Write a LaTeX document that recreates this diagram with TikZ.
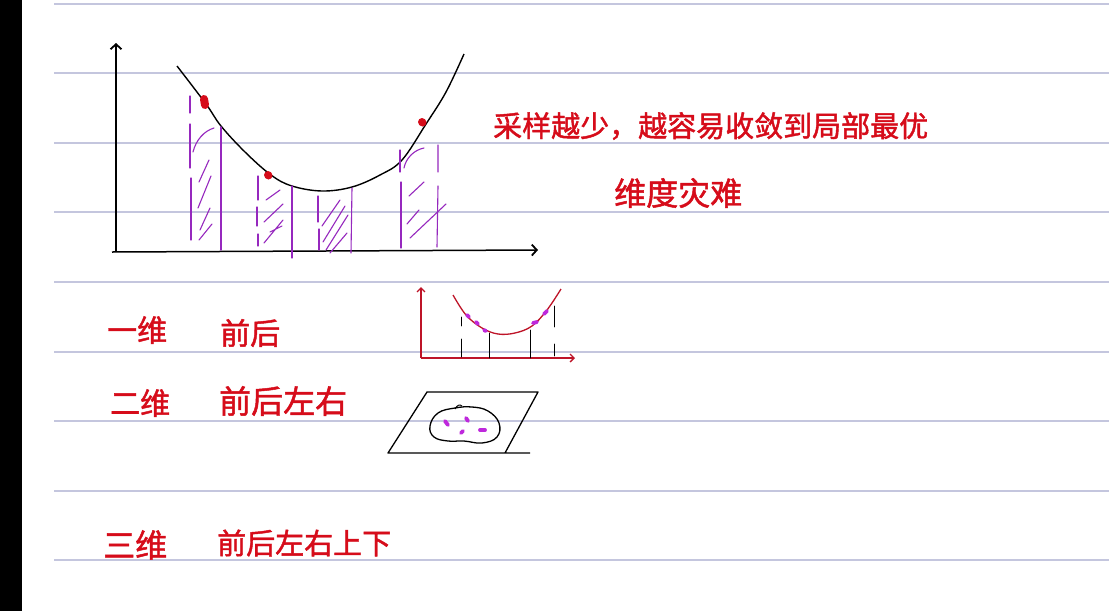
\documentclass[tikz,border=0pt]{standalone}
\usepackage{fontspec}
\newfontfamily\cjk[FakeBold=1.5]{Noto Sans CJK SC}
\usetikzlibrary{arrows.meta}
\definecolor{ruled}{RGB}{196,198,222}
\definecolor{ink}{RGB}{214,12,26}
\definecolor{hatch}{RGB}{150,40,190}
\definecolor{dotp}{RGB}{190,40,220}
\definecolor{crim}{RGB}{190,20,40}
\tikzset{
  ruleline/.style={ruled,line width=1.6pt},
  axis/.style={black,line width=1.5pt,-{Straight Barb[length=5pt,width=11pt,line width=1.8pt]}},
  raxis/.style={crim,line width=1.3pt,-{Straight Barb[length=4pt,width=8pt,line width=1.3pt]}},
  hat/.style={hatch,line width=1.1pt,line cap=round},
  thinblk/.style={black,line width=0.9pt,line cap=round},
  rdot/.style={ink,line width=8pt,line cap=round},
  pdot/.style={dotp,line width=3.8pt,line cap=round},
  hand/.style={ink,inner sep=0pt,anchor=west,font=\cjk},
}
\begin{document}
\begin{tikzpicture}[x=1pt,y=-1pt]
\useasboundingbox (0,0) rectangle (1109,611);
\fill[white] (0,0) rectangle (1109,611);
\fill[black] (0,0) rectangle (22,611);
\foreach \y in {4,73,143,212,282,352,421,491,560} \draw[ruleline] (54,\y) -- (1109,\y);

% ---- main graph ----
\coordinate (O) at (116,252);
\coordinate (Ytop) at (116,43);
\coordinate (X0) at (112,252);
\coordinate (Xend) at (538,250);
\draw[axis] (O) -- (Ytop);
\draw[axis] (X0) -- (Xend);
\draw[black,line width=1.4pt] plot[smooth,tension=0.6] coordinates {(177,66) (206,104) (221,126) (245,152) (271,175) (292,186) (322,191) (352,187) (380,175) (402,160) (426,124) (446,92) (464,54)};

% hatch strip 1
\draw[hat] (190,96)--(190,113) (190,124)--(190,168) (191,178)--(191,240);
\draw[hat] (221,127)--(221,250);
\draw[hat] (193,152) .. controls (196,140) and (204,131) .. (214,128);
\draw[hat] (199,182)--(209,160) (198,208)--(211,176) (200,230)--(210,208) (199,240)--(212,224);
% hatch strip 2
\draw[hat] (258,176)--(258,200) (257,207)--(257,226) (258,234)--(258,246);
\draw[hat] (292,186)--(292,258);
\draw[hat] (266,200)--(280,190) (264,222)--(283,204) (264,243)--(283,220) (270,232)--(282,226);
% hatch strip 3
\draw[hat] (318,196)--(318,222) (319,229)--(319,250);
\draw[hat] (352,188)--(351,253);
\draw[hat] (322,226)--(340,200) (323,242)--(345,206) (326,250)--(348,215) (330,253)--(347,233);
% hatch strip 4
\draw[hat] (400,150)--(400,172) (401,182)--(401,248);
\draw[hat] (438,145)--(438,172) (438,186)--(437,247);
\draw[hat] (404,168) .. controls (406,158) and (414,150) .. (424,148);
\draw[hat] (409,196)--(424,182) (407,224)--(419,210) (410,238)--(446,204);

% red sample dots
\draw[rdot] (204,99)--(205,105);
\draw[rdot] (268,175)--(268.5,175.5);
\draw[rdot] (422,122)--(422.5,122.5);

% ---- texts ----
\node[hand,font=\cjk\fontsize{29}{29}\selectfont] (t1) at (493,126) {采样越少，越容易收敛到局部最优};
\node[hand,font=\cjk\fontsize{32}{32}\selectfont] (t2) at (614,193) {维度灾难};
\node[hand,font=\cjk\fontsize{30}{30}\selectfont] (d1) at (107,330) {一维};
\node[hand,font=\cjk\fontsize{30}{30}\selectfont] (p1) at (220,333) {前后};
\node[hand,font=\cjk\fontsize{30}{30}\selectfont] (d2) at (110,403) {二维};
\node[hand,font=\cjk\fontsize{32}{32}\selectfont] (p2) at (219,401) {前后左右};
\node[hand,font=\cjk\fontsize{32}{32}\selectfont] (d3) at (103,545) {三维};
\node[hand,font=\cjk\fontsize{29}{29}\selectfont] (p3) at (217,543) {前后左右上下};

% ---- small 1D graph ----
\coordinate (o1) at (421,358);
\coordinate (y1) at (421,287);
\coordinate (x1) at (575,358);
\draw[raxis] (o1) -- (y1);
\draw[raxis] (o1) -- (x1);
\draw[thinblk] (461,317)--(461,326) (461,339)--(461,357);
\draw[thinblk] (489,333)--(489,358);
\draw[thinblk] (530,330)--(530,358);
\draw[thinblk] (554,306)--(554,327) (554,344)--(554,356);
\draw[crim,line width=1.3pt] plot[smooth,tension=0.6] coordinates {(453,295) (466,315) (482,328) (498,334) (515,333) (532,326) (547,310) (561,289)};
\draw[pdot] (467,315)--(469,317);
\draw[pdot] (476,322)--(478,324);
\draw[pdot] (484,330)--(486,331);
\draw[pdot] (533,323)--(537,322);
\draw[pdot] (544,314)--(547,311);

% ---- 2D plane ----
\coordinate (pa) at (388,453);
\coordinate (pb) at (427,392);
\coordinate (pc) at (538,392);
\coordinate (pd) at (505,453);
\coordinate (pe) at (530,453);
\draw[black,line width=1.3pt,line join=round] (pe) -- (pa) -- (pb) -- (pc) -- (pd);
\draw[black,line width=1.3pt] plot[smooth cycle,tension=0.7] coordinates {(430,426) (438,413) (455,408) (472,407) (488,411) (499,423) (497,437) (482,443) (464,441) (448,441) (434,437)};
\draw[black,line width=1pt] (455,409) .. controls (457,405) and (460,404) .. (462,406);
\draw[pdot] (445,421)--(448,425);
\draw[pdot] (466,418)--(468,421);
\draw[pdot] (461,433)--(463,431);
\draw[pdot] (480,430)--(485,430);
\end{tikzpicture}
\end{document}
